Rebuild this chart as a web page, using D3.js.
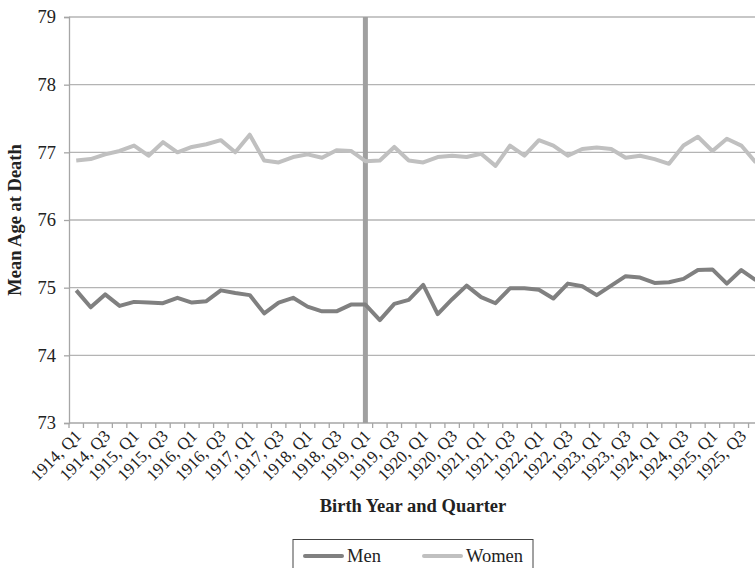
<!DOCTYPE html>
<html><head><meta charset="utf-8">
<script src="https://cdn.jsdelivr.net/npm/d3@7"></script>
<style>
html,body{margin:0;padding:0;background:#fff;overflow:hidden;}
svg{display:block;font-family:"Liberation Serif","Times New Roman",serif;}
</style></head>
<body>
<svg id="chart" width="755" height="568"></svg>
<script>
const years = [1914,1915,1916,1917,1918,1919,1920,1921,1922,1923,1924,1925];
const quarters = ["Q1","Q2","Q3","Q4"];
const categories = years.flatMap(yr => quarters.map(q => yr + ", " + q));
const menValues = [
  74.96,74.71,74.90,74.73,74.79,74.78,74.77,74.85,74.78,74.80,74.96,74.92,
  74.89,74.62,74.78,74.85,74.72,74.65,74.65,74.75,74.75,74.52,74.76,74.82,
  75.04,74.61,74.83,75.03,74.86,74.77,74.99,74.99,74.97,74.84,75.06,75.02,
  74.89,75.03,75.17,75.15,75.07,75.08,75.13,75.26,75.27,75.06,75.26,75.11
];
const womenValues = [
  76.88,76.90,76.97,77.02,77.10,76.95,77.15,77.00,77.08,77.12,77.18,77.00,
  77.26,76.88,76.85,76.93,76.97,76.92,77.03,77.02,76.87,76.88,77.08,76.88,
  76.85,76.93,76.95,76.93,76.98,76.80,77.10,76.95,77.18,77.10,76.95,77.05,
  77.07,77.05,76.92,76.95,76.90,76.83,77.10,77.23,77.02,77.20,77.10,76.85
];
const yTicks = [73,74,75,76,77,78,79];
const markerCategory = "1919, Q1";
const seriesNames = ["Men","Women"];
const seriesColors = ["#808080","#c0c0c0"];

(function(){
const svg = d3.select("#chart");
const mLeft = 69, mRight = 763, mTop = 17, mBottom = 423;
const fs = 18.5;

const x = d3.scaleBand().domain(categories).range([mLeft, mRight]).padding(0);
const y = d3.scaleLinear().domain([73,79]).range([mBottom, mTop]);
const cx = c => x(c) + x.bandwidth()/2;

// gridlines
svg.append("g").selectAll("line").data(yTicks.filter(t => t !== 73)).join("line")
  .attr("x1", mLeft).attr("x2", mRight)
  .attr("y1", d => y(d)).attr("y2", d => y(d))
  .attr("stroke", "#b4b4b4").attr("stroke-width", 1.3);

// y axis
const yAxis = d3.axisLeft(y).tickValues(yTicks).tickSize(5).tickPadding(8).tickFormat(d3.format("d"));
const gy = svg.append("g").attr("transform", `translate(${mLeft},0)`).call(yAxis);
gy.select(".domain").attr("stroke", "#a6a6a6").attr("stroke-width", 1.3);
gy.selectAll(".tick line").attr("stroke", "#a6a6a6").attr("stroke-width", 1.3);
gy.selectAll(".tick text").attr("font-size", fs).attr("fill", "#222")
  .attr("font-family", "Liberation Serif, serif");

// x axis line and ticks at boundaries
svg.append("line").attr("x1", mLeft).attr("x2", mRight).attr("y1", mBottom).attr("y2", mBottom)
  .attr("stroke", "#a6a6a6").attr("stroke-width", 1.3);
svg.append("g").selectAll("line").data(categories.concat(["end"])).join("line")
  .attr("x1", (d,i) => mLeft + i*x.bandwidth()).attr("x2", (d,i) => mLeft + i*x.bandwidth())
  .attr("y1", mBottom).attr("y2", mBottom + 5)
  .attr("stroke", "#a6a6a6").attr("stroke-width", 1.3);

// x labels
svg.append("g").selectAll("text").data(categories.filter((d,i) => i % 2 === 0)).join("text")
  .attr("transform", d => `translate(${cx(d)+6},${mBottom+14}) rotate(-45)`)
  .attr("text-anchor", "end")
  .attr("font-size", 17).attr("fill", "#222")
  .text(d => d);

// vertical marker
svg.append("line")
  .attr("x1", cx(markerCategory)).attr("x2", cx(markerCategory))
  .attr("y1", mTop).attr("y2", mBottom)
  .attr("stroke", "#a0a0a0").attr("stroke-width", 5);

// lines
const line = d3.line().x((d,i) => cx(categories[i])).y(d => y(d));
[menValues, womenValues].forEach((vals, k) => {
  svg.append("path").datum(vals)
    .attr("d", line).attr("fill", "none")
    .attr("stroke", seriesColors[k]).attr("stroke-width", 4)
    .attr("stroke-linejoin", "round");
});

// axis titles
svg.append("text")
  .attr("transform", `translate(21,${(mTop+mBottom)/2}) rotate(-90)`)
  .attr("text-anchor", "middle").attr("font-size", fs).attr("font-weight", "bold")
  .attr("fill", "#222").text("Mean Age at Death");
svg.append("text")
  .attr("x", 413).attr("y", 512)
  .attr("text-anchor", "middle").attr("font-size", fs).attr("font-weight", "bold")
  .attr("fill", "#222").text("Birth Year and Quarter");

// legend
const lg = svg.append("g");
lg.append("rect").attr("x", 293).attr("y", 539.5).attr("width", 240).attr("height", 40)
  .attr("fill", "none").attr("stroke", "#444").attr("stroke-width", 1);
const legendX = [305, 424];
seriesNames.forEach((name, k) => {
  lg.append("line").attr("x1", legendX[k]).attr("x2", legendX[k] + 37)
    .attr("y1", 556).attr("y2", 556)
    .attr("stroke", seriesColors[k]).attr("stroke-width", 4).attr("stroke-linecap", "round");
  lg.append("text").attr("x", legendX[k] + 42).attr("y", 561.5)
    .attr("font-size", fs).attr("fill", "#222").text(name);
});
})();
</script>
</body></html>
